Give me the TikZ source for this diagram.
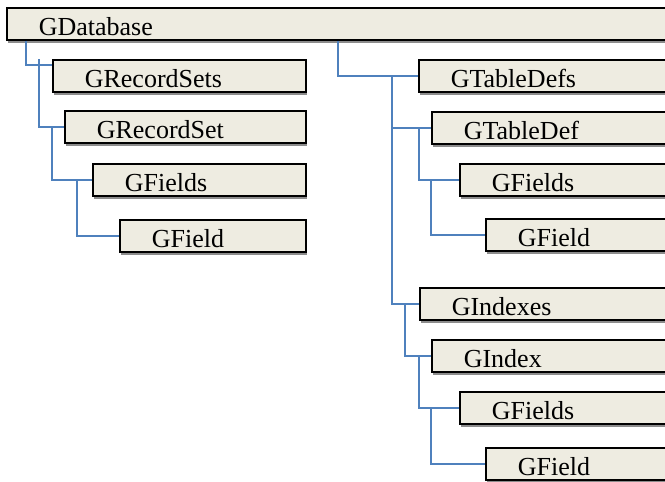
\documentclass[tikz,border=0pt]{standalone}
\usepackage{fontspec}
\setmainfont{Liberation Serif}
\usetikzlibrary{shadows}
\definecolor{boxfill}{HTML}{EEECE1}
\definecolor{linkblue}{HTML}{4F81BD}
\tikzstyle{entity} = [rectangle, draw, line width=1.6pt, fill=boxfill, anchor=north west,
    minimum height=32pt, inner xsep=32pt, inner ysep=0pt, text height=27.5pt, text depth=4.5pt,
    align=left, drop shadow={shadow xshift=1pt, shadow yshift=-3pt, fill=black!45, opacity=1}]
\tikzstyle{link} = [linkblue, line width=1.8pt]

\begin{document}
\begin{tikzpicture}[x=1pt, y=-1pt, font=\fontsize{26}{28}\selectfont]
\clip (0,0) rectangle (665,482);
\fill[white] (0,0) rectangle (665,482);
% root
\node[entity, text width=600pt] (db) at (6,7) {GDatabase};
% record sets branch
\node[entity, text width=189pt] (rsets) at (52,59) {GRecordSets};
\node[entity, text width=177pt] (rset) at (64,110) {GRecordSet};
\node[entity, text width=149pt] (flds1) at (92,163) {GFields};
\node[entity, text width=122pt] (fld1) at (119,219) {GField};
% table defs branch
\node[entity, text width=188pt] (tdefs) at (418,59) {GTableDefs};
\node[entity, text width=175pt] (tdef) at (431,111) {GTableDef};
\node[entity, text width=147pt] (flds2) at (459,163) {GFields};
\node[entity, text width=121pt] (fld2) at (485,218) {GField};
% indexes branch
\node[entity, text width=187pt] (idxs) at (419,287) {GIndexes};
\node[entity, text width=175pt] (idx) at (431,339) {GIndex};
\node[entity, text width=147pt] (flds3) at (459,391) {GFields};
\node[entity, text width=121pt] (fld3) at (485,447) {GField};
% connectors
\draw[link] ([xshift=20pt]db.south west) |- ([yshift=11pt]rsets.west);
\draw[link] ([xshift=-13pt]rsets.north west) |- (rset.west);
\draw[link] ([xshift=-12pt]rset.west) |- (flds1.west);
\draw[link] ([xshift=-15pt]flds1.west) |- (fld1.west);
\draw[link] ([xshift=332pt]db.south west) |- (tdefs.west);
\draw[link] ([xshift=-26pt]tdefs.west) |- (tdef.west);
\draw[link] ([xshift=-26pt]tdefs.west) |- (idxs.west);
\draw[link] ([xshift=-12pt]tdef.west) |- (flds2.west);
\draw[link] ([xshift=-28pt]flds2.west) |- (fld2.west);
\draw[link] ([xshift=-14pt]idxs.west) |- (idx.west);
\draw[link] ([xshift=-12pt]idx.west) |- (flds3.west);
\draw[link] ([xshift=-28pt]flds3.west) |- (fld3.west);
\end{tikzpicture}
\end{document}
